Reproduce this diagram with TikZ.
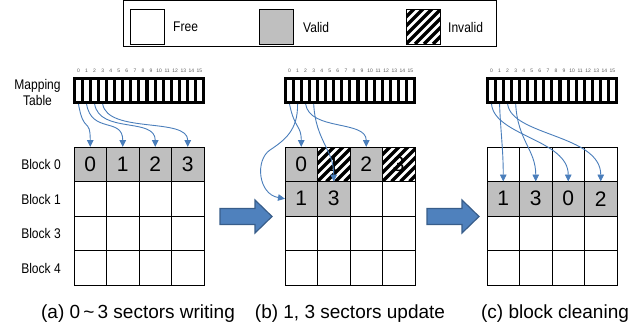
\documentclass[tikz,border=0pt]{standalone}
\usepackage{fontspec}
\setmainfont{Liberation Sans}
\newfontfamily\narrowfont[FakeStretch=0.86]{Liberation Sans}
\usetikzlibrary{arrows.meta,calc}

\definecolor{linkblue}{RGB}{74,126,187}
\definecolor{validgray}{RGB}{191,191,191}
\definecolor{bigfill}{RGB}{79,129,189}
\definecolor{bigdraw}{RGB}{56,93,138}
\definecolor{tickgray}{RGB}{90,90,90}

\tikzset{
  cell/.style={draw=black, line width=0.9pt, fill=white, minimum width=32.5pt,
    minimum height=34.5pt, inner sep=0pt, outer sep=0pt, anchor=north west,
    font=\fontsize{21}{21}\selectfont},
  valid/.style={cell, fill=validgray},
  stripes/.style={path picture={
    \foreach \k in {-5,...,5}
      \draw[line width=3.3pt]
        ($(path picture bounding box.south west)+(\k*9,0)$) -- ++(45,-45);}},
  invalid/.style={cell, stripes},
  link/.style={draw=linkblue, line width=0.9pt,
    -{Triangle[width=6.5pt,length=7pt]}},
  lbl/.style={font=\narrowfont\fontsize{14}{16}\selectfont, inner sep=0pt},
  tick/.style={font=\fontsize{5}{5}\selectfont, text=tickgray, inner sep=0pt},
  caption/.style={font=\fontsize{19}{19}\selectfont, inner sep=0pt, anchor=base},
  legendbox/.style={draw=black, line width=0.9pt, minimum width=34pt,
    minimum height=35pt, inner sep=0pt},
  bigarrow/.style={fill=bigfill, draw=bigdraw, line width=1.2pt, line join=miter},
}

% mapping table: #1 = coordinate prefix, #2 = left edge
\newcommand\mtable[2]{%
  \fill (#2,77) rectangle ++(132,27);
  \foreach \i in {0,...,15}{%
    \fill[white] ({#2+3+8.06*\i},80) rectangle ++(5,21);
    \node[tick] (#1n\i) at ({#2+5.5+8.06*\i},71) {\i};
  }%
  \foreach \i in {0,...,3}
    \coordinate (#1\i) at ({#2+5.5+8.06*\i},104);
}

% block arrow between the panels: #1 = left end
\newcommand\bigarrowat[1]{%
  \draw[bigarrow] (#1,208.5) -- ++(35,0) -- ++(0,-8.5) -- ++(17,16.5)
    -- ++(-17,16.5) -- ++(0,-8.5) -- ++(-35,0) -- cycle;
}

\begin{document}
\begin{tikzpicture}[x=1pt,y=-1pt]
\useasboundingbox (0,0) rectangle (637,327);

% ---- legend ----
\draw[line width=0.9pt] (123,0.5) rectangle (496,46);
\node[legendbox, fill=white] (lgfree) at (147,26.5) {};
\node[lbl, anchor=west] (lgfreet) at (173,27) {Free};
\node[legendbox, fill=validgray] (lgvalid) at (276.5,26.5) {};
\node[lbl, anchor=west] (lgvalidt) at (303,27) {Valid};
\node[legendbox, fill=white, stripes] (lginv) at (423,26.5) {};
\node[lbl, anchor=west] (lginvt) at (448,27) {Invalid};

% ---- labels on the left ----
\node[lbl, align=center] (maplbl) at (37.5,92) {Mapping\\Table};
\foreach \r/\b in {0/0,1/1,2/3,3/4}
  \node[lbl] (blk\r) at (41,{164.5+34.5*\r}) {Block \b};

% ---- mapping tables ----
\mtable{ta}{73}
\mtable{tb}{284}
\mtable{tc}{486}

% ---- grid (a): sectors 0-3 written into block 0 ----
\foreach \c in {0,...,3}
  \node[valid] (a-0-\c) at ({74+32.5*\c},147) {\c};
\foreach \r in {1,2,3}
  \foreach \c in {0,...,3}
    \node[cell] (a-\r-\c) at ({74+32.5*\c},{147+34.5*\r}) {};

% ---- grid (b): sectors 1 and 3 updated ----
\foreach \c/\k in {0/valid,1/invalid,2/valid,3/invalid}
  \node[\k] (b-0-\c) at ({285+32.5*\c},147) {\c};
\foreach \c/\t in {0/1,1/3}
  \node[valid] (b-1-\c) at ({285+32.5*\c},181.5) {\t};
\foreach \c in {2,3}
  \node[cell] (b-1-\c) at ({285+32.5*\c},181.5) {};
\foreach \r in {2,3}
  \foreach \c in {0,...,3}
    \node[cell] (b-\r-\c) at ({285+32.5*\c},{147+34.5*\r}) {};

% ---- grid (c): after block cleaning ----
\foreach \c/\t in {0/1,1/3,2/0,3/2}
  \node[valid] (c-1-\c) at ({487+32.5*\c},181.5) {\t};
\foreach \r in {0,2,3}
  \foreach \c in {0,...,3}
    \node[cell] (c-\r-\c) at ({487+32.5*\c},{147+34.5*\r}) {};

% ---- mapping links (a) ----
\foreach \i in {0,...,3}
  \draw[link] (ta\i) .. controls ($(ta\i)+(5,30)$) and ($(a-0-\i.north)+(0,-30)$) .. (a-0-\i.north);

% ---- mapping links (b) ----
\draw[link] (tb0) .. controls ($(tb0)+(5,25)$) and ($(b-0-0.north)+(0,-22)$) .. (b-0-0.north);
\draw[link] (tb1) .. controls (298,130) and (285,140) .. (270,150)
  .. controls (255,160) and (258,194) .. (b-1-0.west);
\draw[link] (tb2) .. controls ($(tb2)+(4,27)$) and ($(b-0-2.north)+(0,-27)$) .. (b-0-2.north);
\draw[link] (tb3) .. controls ($(tb3)+(2,37)$) and ($(b-1-1.north)+(0,-32)$) .. (b-1-1.north);

% ---- mapping links (c) ----
\draw[link] (tc0) .. controls ($(tc0)+(3,32)$) and ($(c-1-2.north)+(0,-42)$) .. (c-1-2.north);
\draw[link] (tc1) .. controls ($(tc1)+(1,27)$) and ($(c-1-0.north)+(0,-32)$) .. (c-1-0.north);
\draw[link] (tc2) .. controls ($(tc2)+(4,32)$) and ($(c-1-3.north)+(0,-47)$) .. (c-1-3.north);
\draw[link] (tc3) .. controls ($(tc3)+(2,37)$) and ($(c-1-1.north)+(0,-32)$) .. (c-1-1.north);

% ---- block arrows between panels ----
\bigarrowat{220}
\bigarrowat{427}

% ---- captions ----
\node[caption] (capa) at (138,318) {(a) 0\,\char"007E\,3 sectors writing};
\node[caption] (capb) at (350,318) {(b) 1, 3 sectors update};
\node[caption] (capc) at (555,318) {(c) block cleaning};
\end{tikzpicture}
\end{document}
